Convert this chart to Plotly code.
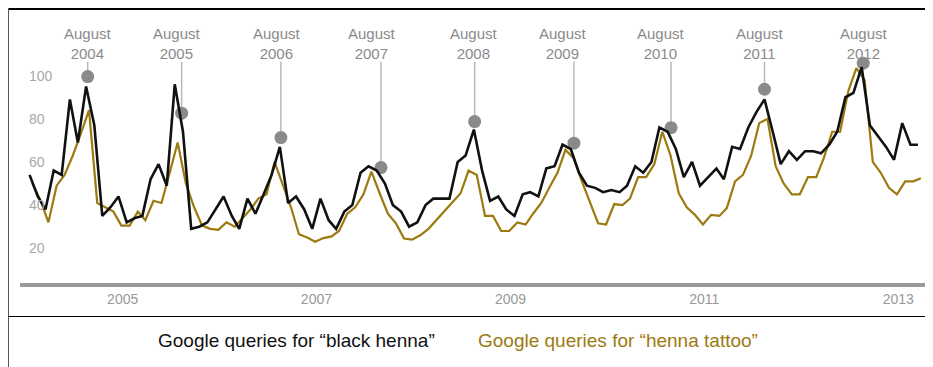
import pandas as pd
import plotly.graph_objects as go

# Monthly Google Trends index, Jan 2004 - Mar 2013
MONTHS = pd.date_range("2004-01-01", periods=111, freq="MS")

BLACK_HENNA = [
    54, 44, 38, 56, 54, 89, 69, 95, 77, 35, 39, 44,    # 2004
    32, 34, 35, 52, 59, 49, 96, 74, 29, 30, 32, 38,    # 2005
    44, 35, 29, 43, 36, 45, 54, 67, 41, 44, 38, 29,    # 2006
    43, 33, 29, 37, 40, 55, 58, 56, 50, 40, 37, 30,    # 2007
    32, 40, 43, 43, 43, 60, 63, 75, 56, 42, 44, 38,    # 2008
    35, 45, 46, 44, 57, 58, 68, 66, 55, 49, 48, 46,    # 2009
    47, 46, 49, 58, 55, 60, 76, 74, 66, 53, 60, 49,    # 2010
    53, 57, 52, 67, 66, 76, 83, 89, 74, 59, 65, 61,    # 2011
    65, 65, 64, 68, 74, 90, 92, 104, 77, 72, 67, 61,   # 2012
    78, 68, 68,                                        # 2013
]

HENNA_TATTOO = [
    50, 42, 32, 49, 54, 63, 73, 84, 41, 39, 37, 30.5,
    30.5, 37, 33, 42, 41, 55, 69, 50, 39, 30.5, 29, 28.5,
    32, 30, 34, 38, 43, 45, 60, 49, 39, 26.5, 25, 23,
    24.7, 25.5, 28, 36, 39, 45, 55.5, 45.5, 36, 31.6, 24.5, 24,
    26, 29, 33, 37, 41, 45.5, 56, 54, 35, 35, 28, 28,
    32, 31, 36, 41, 48, 55, 65.6, 61.7, 51, 41, 31.6, 31,
    40.5, 40, 43, 53, 53, 59, 74, 63, 45.5, 39, 35.5, 31,
    35.5, 35, 38.6, 51, 54, 63, 78, 80, 58, 50, 45, 45,
    53, 53, 62, 74, 74, 93, 103.5, 98, 60, 55, 48, 45,
    51, 51, 52.5,
]
# the henna-tattoo trace sits a few days to the right in the source image
HENNA_DATES = MONTHS + pd.Timedelta(days=11)

PEAK_DATES = ["2004-08-07", "2005-07-27", "2006-08-05", "2007-08-17", "2008-08-04",
              "2009-08-13", "2010-08-14", "2011-08-01", "2012-08-07"]
PEAK_VALUES = [99.6, 82.6, 71.3, 57.4, 78.7, 68.7, 75.9, 93.7, 105.8]
PEAK_LABELS = [f"August<br>{y}" for y in range(2004, 2013)]
LABEL_SHIFT = [0, -5, -4, -9, -1, -11, -10, -5, 1]

YEAR_TICKS = ["2005-01-01", "2007-01-01", "2009-01-01", "2011-01-01", "2013-01-01"]
YEAR_TEXT = ["2005", "2007", "2009", "2011", "2013"]
Y_TICKS = [20, 40, 60, 80, 100]

BLACK = "#111111"
OLIVE = "#9c7a10"
FONT = "Liberation Sans, Arial, sans-serif"

# plot area: 908 x 263 px, placed 12 px from the top-left of the figure
PW, PH = 908, 263


def px(x):
    return (x - 12) / PW


def py(y):
    return (275 - y) / PH


fig = go.Figure()

fig.add_trace(go.Scatter(
    x=PEAK_DATES, y=PEAK_VALUES, mode="markers",
    marker=dict(size=13, color="#8a8a8a"), hoverinfo="skip", showlegend=False,
))
fig.add_trace(go.Scatter(
    x=HENNA_DATES, y=HENNA_TATTOO, mode="lines", name="henna tattoo",
    line=dict(color=OLIVE, width=2.2), showlegend=False,
))
fig.add_trace(go.Scatter(
    x=MONTHS, y=BLACK_HENNA, mode="lines", name="black henna",
    line=dict(color=BLACK, width=2.6), showlegend=False,
))

# leader lines from the labels down to the dots
for d, v in zip(PEAK_DATES, PEAK_VALUES):
    fig.add_shape(type="line", xref="x", yref="y", x0=d, x1=d, y0=v, y1=106.4,
                  line=dict(color="#b8b8b8", width=1.5), layer="below")

for d, lab, sh in zip(PEAK_DATES, PEAK_LABELS, LABEL_SHIFT):
    fig.add_annotation(x=d, y=py(35.5), xref="x", yref="paper", text=lab,
                       showarrow=False, xshift=sh, yanchor="middle",
                       font=dict(family=FONT, size=15, color="#8a8a8a"))

# frame lines
fig.add_shape(type="line", xref="paper", yref="paper", x0=px(0), x1=px(940),
              y0=py(1), y1=py(1), line=dict(color="#000000", width=2))
fig.add_shape(type="line", xref="paper", yref="paper", x0=px(0.5), x1=px(0.5),
              y0=py(0), y1=py(370), line=dict(color="#555555", width=1))
fig.add_shape(type="line", xref="paper", yref="paper", x0=px(0), x1=px(940),
              y0=py(308.5), y1=py(308.5), line=dict(color="#000000", width=1.2))

fig.add_annotation(x=px(288), y=py(333), xref="paper", yref="paper",
                   xanchor="center", yanchor="middle", showarrow=False,
                   text="Google queries for “black henna”",
                   font=dict(family=FONT, size=19, color=BLACK))
fig.add_annotation(x=px(610), y=py(333), xref="paper", yref="paper",
                   xanchor="center", yanchor="middle", showarrow=False,
                   text="Google queries for “henna tattoo”",
                   font=dict(family=FONT, size=19, color=OLIVE))

fig.update_xaxes(
    type="date", range=["2003-11-26", "2013-04-08"],
    tickvals=YEAR_TICKS, ticktext=YEAR_TEXT, ticklabelshift=-4,
    showline=True, linecolor="#9a9a9a", linewidth=4,
    showgrid=False, zeroline=False, ticks="",
    tickfont=dict(family=FONT, size=14, color="#999999"),
)
fig.update_yaxes(
    range=[3.9, 125.8], tickvals=Y_TICKS, ticklabelposition="inside",
    ticklabelstandoff=6,
    showline=False, showgrid=False, zeroline=False, ticks="",
    tickfont=dict(family=FONT, size=14, color="#a8a8a8"),
)
fig.update_layout(
    width=933, height=367,
    margin=dict(l=12, r=13, t=12, b=92),
    plot_bgcolor="white", paper_bgcolor="white",
    font=dict(family=FONT),
)

fig.write_html("out.html")
